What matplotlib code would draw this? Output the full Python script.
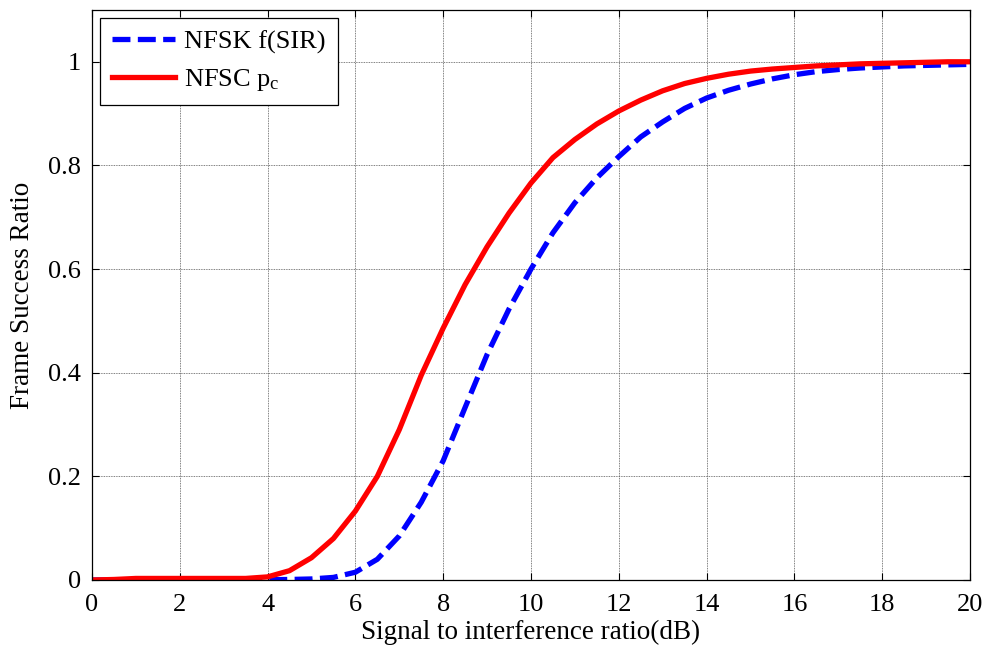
import matplotlib
matplotlib.use("Agg")
import matplotlib.pyplot as plt

plt.rcParams['font.family'] = ['Liberation Serif', 'DejaVu Serif']
plt.rcParams['mathtext.fontset'] = 'custom'
plt.rcParams['mathtext.rm'] = 'Liberation Serif'

sir_db = [0, 0.5, 1, 1.5, 2, 2.5, 3, 3.5, 4, 4.5, 5, 5.5, 6, 6.5, 7, 7.5, 8, 8.5,
          9, 9.5, 10, 10.5, 11, 11.5, 12, 12.5, 13, 13.5, 14, 14.5, 15, 15.5, 16,
          16.5, 17, 17.5, 18, 18.5, 19, 19.5, 20]

nfsk = [0, 0, 0, 0, 0, 0, 0, 0, 0.0005, 0.001, 0.002, 0.005, 0.015, 0.04, 0.085,
        0.15, 0.23, 0.333, 0.435, 0.523, 0.60, 0.67, 0.728, 0.776, 0.817, 0.855,
        0.884, 0.91, 0.93, 0.945, 0.957, 0.967, 0.975, 0.981, 0.985, 0.988,
        0.99, 0.992, 0.993, 0.994, 0.995]

nfsc = [0, 0.001, 0.003, 0.003, 0.003, 0.003, 0.003, 0.003, 0.006, 0.018, 0.043,
        0.08, 0.133, 0.2, 0.29, 0.395, 0.486, 0.57, 0.643, 0.708, 0.766, 0.815,
        0.85, 0.88, 0.905, 0.926, 0.944, 0.958, 0.968, 0.976, 0.982, 0.986,
        0.989, 0.992, 0.994, 0.996, 0.997, 0.998, 0.999, 1.0, 1.0]

x_ticks = [0, 2, 4, 6, 8, 10, 12, 14, 16, 18, 20]
y_ticks = [0, 0.2, 0.4, 0.6, 0.8, 1]
y_tick_labels = ['0', '0.2', '0.4', '0.6', '0.8', '1']

fig = plt.figure(figsize=(9.91, 6.5), dpi=100)
ax = fig.add_axes([0.0928, 0.1077, 0.886, 0.877])

ax.plot(sir_db, nfsk, color='blue', linewidth=3.8, linestyle=(0, (3.4, 1.4)),
        label='NFSK f(SIR)')
ax.plot(sir_db, nfsc, color='red', linewidth=3.8, label='NFSC $\\mathregular{p_c}$')

ax.set_xlim(0, 20)
ax.set_ylim(0, 1.1)
ax.set_xticks(x_ticks)
ax.set_yticks(y_ticks)
ax.set_yticklabels(y_tick_labels)
ax.tick_params(direction='in', length=5, width=0.8, top=True, right=True,
               labelsize=19)
ax.tick_params(axis='x', pad=10)
ax.tick_params(axis='y', pad=8)
ax.grid(True, color='#555555', linewidth=0.6, linestyle=(0, (1, 1)))
for s in ax.spines.values():
    s.set_linewidth(0.9)

ax.set_xlabel('Signal to interference ratio(dB)', fontsize=19.5, labelpad=3)
ax.set_ylabel('Frame Success Ratio', fontsize=19.5, labelpad=9)

leg = ax.legend(loc='upper left', fontsize=19, fancybox=False, framealpha=1,
                edgecolor='black', handlelength=2.4, handletextpad=0.35,
                labelspacing=0.5, borderaxespad=0.3, borderpad=0.45)
leg.get_frame().set_linewidth(0.9)

fig.savefig('out.png', dpi=100)
